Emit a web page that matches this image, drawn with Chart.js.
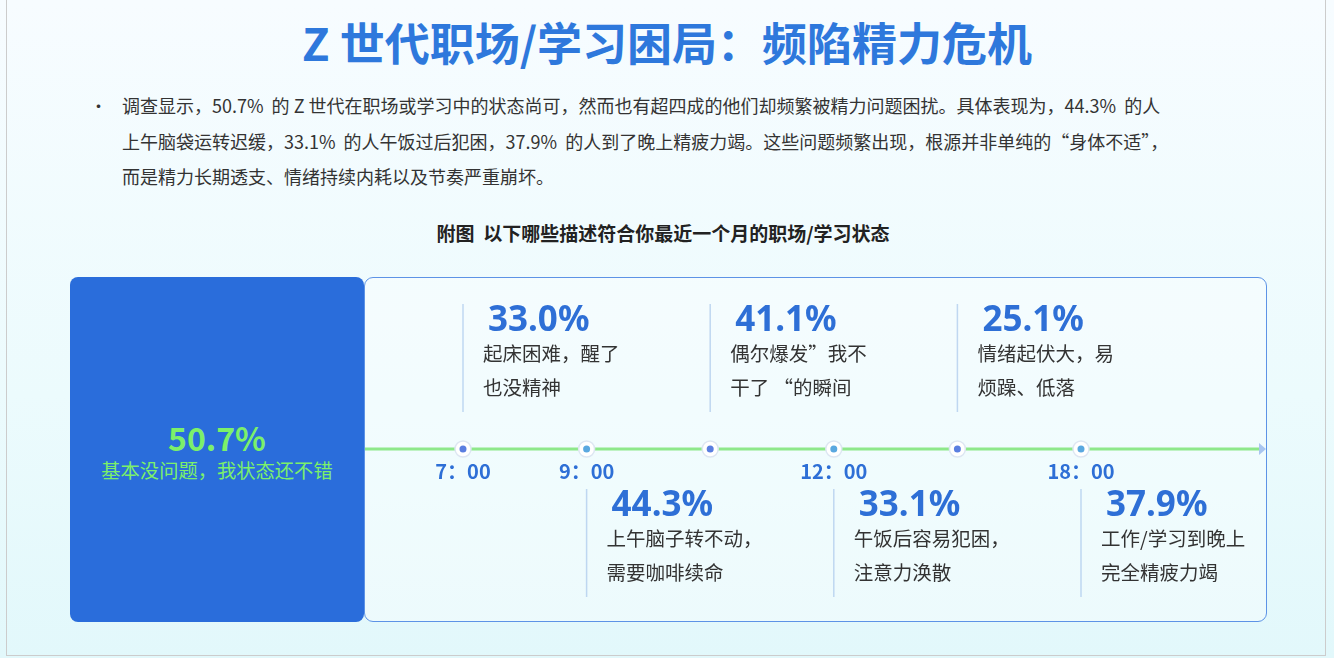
<!DOCTYPE html>
<html><head><meta charset="utf-8">
<script src="https://cdn.jsdelivr.net/npm/chart.js@4"></script>
<style>
html,body{margin:0;padding:0;}
body{width:1334px;height:658px;position:relative;overflow:hidden;font-family:"Noto Sans CJK SC","Noto Sans",sans-serif;
background:linear-gradient(180deg,#f7fcff 0%,#ecfbfd 60%,#e2f8fb 100%);}
#frame{position:absolute;left:6px;top:0;width:1320px;height:656px;border-left:1px solid #ccc;border-right:1px solid #ccc;border-bottom:1px solid #ccc;box-sizing:border-box;}
h1{position:absolute;left:0;width:1334px;top:12px;margin:0;text-align:center;font-size:45px;font-weight:bold;color:#2e78dc;line-height:60px;}
#para{position:absolute;left:122px;top:88px;width:1200px;font-size:18px;color:#333;line-height:35.5px;white-space:nowrap;}
#bullet{position:absolute;left:90px;top:88px;font-size:17px;line-height:35.5px;color:#333;}
#sub{position:absolute;left:0;width:1326px;top:219px;text-align:center;font-size:19px;font-weight:bold;color:#222;}
#left{position:absolute;left:70px;top:277px;width:294px;height:345px;background:#2a6ddb;border-radius:8px;text-align:center;color:#7cf06a;}
#box{position:absolute;left:364px;top:277px;width:903px;height:345px;border:1.5px solid #5d93e6;border-radius:9px;box-sizing:border-box;background:rgba(255,255,255,0.35);}
#cv{position:absolute;left:365px;top:277px;}
</style></head><body>
<div id="frame"></div>
<h1>Z 世代职场/学习困局：频陷精力危机</h1>
<div id="bullet">•</div>
<div id="para">调查显示，50.7%&nbsp; 的 Z 世代在职场或学习中的状态尚可，然而也有超四成的他们却频繁被精力问题困扰。具体表现为，44.3%&nbsp; 的人<br>上午脑袋运转迟缓，33.1%&nbsp; 的人午饭过后犯困，37.9%&nbsp; 的人到了晚上精疲力竭。这些问题频繁出现，根源并非单纯的“身体不适”，<br>而是精力长期透支、情绪持续内耗以及节奏严重崩坏。</div>
<div id="sub">附图&nbsp; 以下哪些描述符合你最近一个月的职场/学习状态</div>
<div id="left">
  <div id="lv" style="position:absolute;left:0;width:294px;top:138px;font-size:32px;font-weight:bold;line-height:44px;"></div>
  <div id="ll" style="position:absolute;left:0;width:294px;top:180px;font-size:19.3px;line-height:26px;"></div>
</div>
<div id="box"></div>
<canvas id="cv" width="902" height="344" style="width:902px;height:344px"></canvas>
<script>
const okValue = 50.7;
const okLabel = "基本没问题，我状态还不错";
const values = [33.0, 44.3, 41.1, 33.1, 25.1, 37.9];
const descLine1 = ["起床困难，醒了","上午脑子转不动，","偶尔爆发”我不","午饭后容易犯困，","情绪起伏大，易","工作/学习到晚上"];
const descLine2 = ["也没精神","需要咖啡续命","干了 “的瞬间","注意力涣散","烦躁、低落","完全精疲力竭"];
const timeLabels = ["7：00","9：00","","12：00","","18：00"];
const positions = [0,1,2,3,4,5];

document.getElementById('lv').textContent = okValue.toFixed(1) + '%';
document.getElementById('ll').textContent = okLabel;

const annot = {
  id:'annot',
  beforeDatasetsDraw(chart){
    const {ctx, scales:{x,y}} = chart;
    const y0 = y.getPixelForValue(0);
    ctx.save();
    ctx.strokeStyle='#8ee88a'; ctx.lineWidth=3;
    ctx.beginPath(); ctx.moveTo(0,y0); ctx.lineTo(chart.width-6,y0); ctx.stroke();
    ctx.fillStyle='#a9c6f0';
    ctx.beginPath(); ctx.moveTo(chart.width-8,y0-6); ctx.lineTo(chart.width-1,y0); ctx.lineTo(chart.width-8,y0+6); ctx.closePath(); ctx.fill();
    positions.forEach((p,i)=>{
      const px = x.getPixelForValue(p);
      const up = i%2===0;
      const top = up? 27 : 212;
      ctx.strokeStyle='rgba(170,200,235,0.7)'; ctx.lineWidth=1.5;
      ctx.beginPath(); ctx.moveTo(px,top); ctx.lineTo(px,top+108); ctx.stroke();
      ctx.textBaseline='middle'; ctx.textAlign='left';
      ctx.fillStyle='#2e6fd6'; ctx.font='bold 35px "Noto Sans","Noto Sans CJK SC",sans-serif';
      ctx.fillText(values[i].toFixed(1)+'%', px+25, top+17);
      ctx.fillStyle='#333'; ctx.font='19.5px "Noto Sans CJK SC",sans-serif';
      ctx.fillText(descLine1[i], px+20, top+50);
      ctx.fillText(descLine2[i], px+20, top+84);
      if(timeLabels[i]){
        ctx.textAlign='center'; ctx.fillStyle='#2e6fd6';
        ctx.font='bold 20px "Noto Sans CJK SC",sans-serif';
        ctx.fillText(timeLabels[i], px, y0+22);
      }
    });
    ctx.restore();
  }
};

new Chart(document.getElementById('cv'), {
  type:'scatter',
  data:{datasets:[
    {data:positions.map(p=>({x:p,y:0})),pointRadius:8,backgroundColor:'#ffffff',borderColor:'#dde6f2',borderWidth:1.5,order:1},
    {data:positions.map(p=>({x:p,y:0})),pointRadius:3.5,backgroundColor:positions.map(p=>p%2?'#5aa8e0':'#5a7ee0'),borderWidth:0,order:0}
  ]},
  options:{
    responsive:false,animation:false,
    layout:{padding:0},
    plugins:{legend:{display:false},tooltip:{enabled:false}},
    scales:{
      x:{type:'linear',min:-0.716,max:6.428,display:false},
      y:{min:-1,max:1,display:false}
    }
  },
  plugins:[annot]
});
</script>
</body></html>
